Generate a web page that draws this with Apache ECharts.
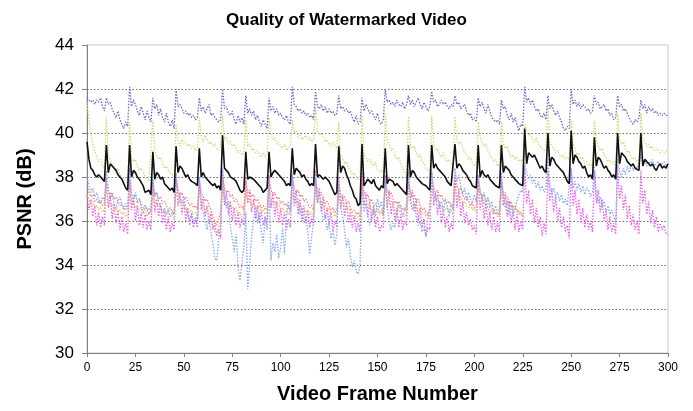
<!DOCTYPE html>
<html>
<head>
<meta charset="utf-8">
<script src="https://cdn.jsdelivr.net/npm/echarts@6/dist/echarts.min.js"></script>
<style>html,body{margin:0;padding:0;background:#fff}#c{width:693px;height:411px}</style>
</head>
<body>
<div id="c"></div>
<script>
// Frame index = position in each array (frame 0 .. 300)
const yTicks = [30, 32, 34, 36, 38, 40, 42, 44];
const xTicks = [0, 25, 50, 75, 100, 125, 150, 175, 200, 225, 250, 275, 300];

const purple = [
41.6,41.5,41.4,41.5,41.3,41.5,41.4,41.6,41.2,41.0,
41.6,41.3,41.4,41.1,40.9,40.7,41.0,40.6,40.4,40.2,40.5,40.3,
42.1,41.2,41.5,41.3,41.0,40.8,41.2,40.9,40.6,41.0,40.7,40.5,
41.6,41.1,41.3,40.8,41.1,40.7,40.5,40.9,40.5,40.3,40.6,40.2,
42.0,41.2,41.3,41.1,40.9,41.0,40.8,40.9,40.7,40.8,40.6,40.7,
41.6,41.0,41.2,40.9,41.1,41.3,40.8,40.9,40.7,40.6,40.5,40.6,
42.0,41.1,41.2,40.9,40.8,41.0,40.6,40.4,40.8,40.5,40.7,40.4,
41.7,40.9,41.1,40.8,41.0,40.6,40.8,40.5,40.3,40.6,40.4,40.2,
41.6,41.0,41.2,40.9,41.1,40.8,40.9,40.7,40.6,40.8,40.5,40.4,
42.1,41.3,41.2,41.0,41.1,40.9,41.0,40.8,40.9,40.7,40.8,40.6,
41.9,41.2,41.1,41.3,41.0,41.2,40.9,41.1,40.9,41.0,40.8,40.9,
41.7,41.1,41.2,41.0,41.1,40.9,41.0,40.7,40.5,40.8,40.4,40.5,
41.6,41.0,41.3,41.1,40.9,41.0,40.8,40.6,40.9,40.5,40.4,40.6,
42.0,41.4,41.5,41.3,41.4,41.2,41.5,41.3,41.2,41.4,41.1,41.3,
41.7,41.3,41.5,41.2,41.4,41.6,41.3,41.1,41.4,41.2,41.0,41.2,
41.9,41.4,41.5,41.2,41.3,41.5,41.3,41.4,41.2,41.1,41.3,41.2,
41.7,41.3,41.4,41.1,41.2,41.3,41.0,40.8,40.9,40.6,40.7,40.5,
41.6,41.2,41.4,41.1,40.9,41.3,41.0,40.7,40.6,40.5,40.6,40.4,
41.5,41.1,41.2,40.8,40.6,40.9,40.5,40.7,40.4,40.1,40.4,40.3,
42.1,41.4,41.6,41.3,41.5,41.2,41.0,41.1,40.8,40.7,40.9,40.6,
41.7,41.1,41.3,41.0,40.8,41.0,40.7,40.5,40.2,40.1,40.3,40.2,
42.0,41.3,41.5,41.2,41.4,41.1,41.3,41.2,41.0,41.1,40.9,41.0,
41.7,41.3,41.4,41.1,41.2,41.3,41.0,41.1,40.8,40.9,40.6,40.7,
41.7,41.2,41.3,41.0,41.1,40.9,40.7,40.5,40.4,40.6,40.5,40.7,
41.5,41.1,41.3,40.9,41.2,41.0,41.1,40.9,41.0,40.8,40.9,40.8,40.9,40.8,40.8
];

const green = [
41.4,40.6,40.0,39.5,39.2,38.9,38.7,38.8,38.5,38.4,
40.7,39.0,38.8,38.6,38.5,38.3,38.4,38.1,38.0,37.9,37.8,37.7,
40.5,38.9,38.7,38.8,38.5,38.3,38.4,38.2,38.0,37.9,37.8,37.8,
40.6,39.2,39.0,38.8,38.9,38.6,38.4,38.5,38.3,38.2,38.1,38.0,
40.4,39.6,39.4,39.7,39.5,39.6,39.4,39.5,39.3,39.4,39.2,39.3,
40.7,39.8,39.6,39.9,39.7,39.5,39.6,39.4,39.5,39.3,39.2,39.4,
40.8,39.7,39.8,39.5,39.6,39.4,39.5,39.3,39.1,39.2,39.0,39.1,
40.6,39.4,39.5,39.2,39.3,39.1,39.2,39.0,38.9,39.1,38.9,39.0,
40.7,39.9,39.7,39.8,39.5,39.6,39.4,39.3,39.5,39.2,39.3,39.4,
40.6,40.0,40.1,39.8,39.9,39.7,39.8,39.9,39.7,39.8,39.6,39.7,
41.2,40.1,39.9,40.0,39.8,39.6,39.7,39.5,39.4,39.6,39.4,39.3,
40.5,39.0,38.9,38.6,38.7,38.4,38.3,38.1,38.2,38.0,37.9,38.0,
40.8,39.0,38.9,38.7,38.8,38.6,38.5,38.7,38.3,38.2,38.3,38.2,
40.9,39.7,39.5,39.2,39.3,39.0,38.8,38.9,38.6,38.4,38.2,38.1,
40.75,39.5,39.3,39.4,39.1,38.9,39.0,38.7,38.6,38.4,38.3,38.2,
40.75,39.4,39.2,39.3,39.0,38.9,39.1,38.8,38.7,38.8,38.6,38.5,
40.75,39.7,39.5,39.6,39.3,39.1,39.0,38.8,38.9,38.6,38.5,38.6,
40.5,39.8,39.6,39.4,39.5,39.2,39.0,38.9,38.7,38.8,38.5,38.6,
40.5,39.5,39.3,39.4,39.1,38.9,39.0,38.8,38.9,38.7,38.8,38.7,
40.4,40.1,39.9,40.0,39.7,39.6,39.8,39.5,39.4,39.3,39.2,39.3,
41.3,39.6,39.4,39.3,39.1,39.2,39.0,38.9,39.0,38.8,38.9,38.8,
40.6,39.5,39.3,39.0,39.1,38.8,38.9,38.6,38.7,38.5,38.6,38.5,
40.6,39.6,39.4,39.2,39.3,39.0,38.9,38.7,38.8,38.6,38.7,38.5,
40.9,39.7,39.5,39.6,39.3,39.1,39.2,38.9,38.8,38.9,38.7,38.8,
40.9,39.8,39.6,39.4,39.5,39.3,39.4,39.2,39.3,39.2,39.1,39.2,39.1,39.2,39.2
];

const black = [
39.6,38.8,38.4,38.3,38.1,38.0,38.1,38.0,37.9,37.8,
39.45,38.2,38.6,38.5,38.4,38.3,38.1,38.0,37.9,37.7,37.5,37.4,
39.45,38.0,38.3,38.2,38.0,37.9,37.9,37.6,37.3,37.3,37.4,37.2,
39.15,37.9,38.2,38.1,37.9,38.0,37.7,37.6,37.6,37.4,37.5,37.3,
39.4,38.2,38.5,38.4,38.2,38.0,38.1,37.9,37.8,37.8,37.7,37.6,
39.3,38.0,38.2,38.0,37.9,37.9,37.7,37.6,37.7,37.5,37.6,37.4,
39.9,38.4,38.3,38.2,38.0,38.0,37.9,37.8,37.6,37.4,37.3,37.4,
39.15,37.9,38.0,38.0,37.9,37.8,37.8,37.6,37.5,37.3,37.3,37.5,
39.15,38.0,38.2,38.3,38.2,38.1,38.0,37.9,37.8,37.6,37.7,37.6,
39.3,38.1,38.4,38.4,38.2,38.0,38.1,37.9,37.8,37.6,37.7,37.6,
39.5,38.0,38.1,38.0,37.9,38.0,37.9,37.8,37.6,37.4,37.2,37.3,
39.4,38.2,38.5,38.4,38.1,37.9,37.6,37.4,37.1,37.0,36.7,36.8,
39.5,37.6,37.6,37.9,37.8,37.7,37.9,37.6,37.5,37.4,37.6,37.5,
39.3,37.7,37.9,37.9,37.8,37.6,37.7,37.6,37.5,37.4,37.3,37.2,
39.45,38.0,38.3,38.2,38.0,37.9,37.8,37.7,37.7,37.6,37.5,37.4,
39.45,38.4,38.6,38.4,38.3,38.3,38.1,38.0,37.8,37.7,37.6,37.6,
39.5,38.4,38.6,38.5,38.3,38.2,38.1,37.9,37.8,37.6,37.6,37.5,
39.45,38.0,38.3,38.1,38.0,38.1,37.9,37.8,37.7,37.6,37.6,37.5,
39.45,38.2,38.5,38.4,38.3,38.1,38.0,37.9,37.8,37.7,37.7,37.6,
40.2,38.6,39.1,39.0,38.9,39.0,38.8,38.6,38.4,38.5,38.3,38.2,
40.0,38.5,38.9,38.8,38.6,38.5,38.4,38.4,38.2,38.0,37.8,37.7,
40.1,38.6,39.0,38.9,38.7,38.6,38.4,38.5,38.2,38.0,38.1,37.9,
39.8,38.5,38.9,38.8,38.6,38.4,38.5,38.3,38.2,38.0,38.1,37.9,
40.0,38.6,39.1,39.0,38.9,38.7,38.6,38.5,38.6,38.4,38.4,38.3,
40.0,38.5,38.8,38.7,38.6,38.5,38.6,38.4,38.3,38.5,38.6,38.4,38.5,38.4,38.6
];

const lightBlue = [
38.0,37.6,37.3,37.5,37.1,37.3,37.0,36.8,37.1,36.9,
38.3,37.4,37.0,37.2,36.8,36.6,36.9,37.1,36.7,36.5,36.8,36.6,
38.4,37.2,36.9,37.3,36.8,37.0,36.6,36.4,36.7,36.5,36.3,36.6,
38.0,37.1,37.3,36.9,36.7,36.4,36.6,36.3,36.5,36.2,36.4,36.3,
38.2,37.3,37.0,36.8,37.1,36.6,36.3,36.0,36.4,35.9,36.2,36.0,
38.0,36.8,36.4,36.0,35.6,36.1,35.5,35.0,34.3,34.2,35.2,35.8,
38.4,37.2,36.6,36.9,35.8,35.2,34.6,35.4,33.9,33.3,34.1,34.8,
36.4,32.9,34.0,35.3,36.0,36.7,35.9,36.4,35.5,35.0,36.2,35.6,
37.8,34.2,35.0,34.6,35.4,34.3,34.8,35.7,34.5,36.2,36.9,36.4,
38.1,37.2,36.8,37.0,36.3,36.6,35.9,36.2,35.5,34.5,35.3,36.0,
38.0,36.9,37.2,36.6,36.0,36.3,35.6,35.9,35.2,35.6,34.9,35.4,
37.8,36.6,36.2,35.6,34.8,35.2,34.4,33.9,34.2,33.7,33.6,34.0,
37.5,36.4,36.8,36.2,35.8,36.3,36.7,36.2,37.0,36.6,36.9,36.3,
37.9,36.6,36.0,35.6,35.9,35.7,36.4,36.9,36.6,36.2,36.5,36.8,
38.2,36.9,36.5,36.8,36.2,35.8,36.0,35.5,35.7,35.3,36.1,36.6,
38.3,37.3,36.9,37.2,36.6,36.9,36.4,37.0,36.7,36.2,36.8,36.5,
38.4,37.8,38.1,37.6,37.2,37.5,36.9,37.3,37.0,36.8,37.2,36.9,
38.1,37.4,37.0,37.3,36.7,37.1,36.6,36.9,36.4,36.7,36.3,36.6,
38.0,37.1,36.6,36.9,36.3,36.8,36.2,36.6,36.9,37.2,37.4,37.3,
38.6,38.2,37.9,38.1,37.7,37.9,37.5,37.8,37.4,37.6,37.3,37.5,
38.8,37.6,37.3,37.5,37.1,37.3,36.9,37.2,36.8,37.0,36.7,36.7,
38.4,37.5,37.8,37.4,37.7,37.3,37.6,37.2,37.5,37.4,37.1,37.3,
38.5,37.2,36.8,37.1,36.6,36.9,36.4,36.7,36.3,36.5,36.2,35.9,
38.8,38.3,38.0,38.4,38.1,38.5,38.2,38.6,38.3,38.5,38.4,38.6,
39.0,38.6,38.8,38.5,38.7,38.6,38.8,38.5,38.6,38.7,38.5,38.6,38.7,38.5,38.6
];

const orange = [
37.2,37.0,36.8,36.9,36.6,36.7,36.5,36.6,36.4,36.5,
37.4,36.9,36.7,36.8,36.5,36.6,36.4,36.5,36.3,36.4,36.2,36.3,
37.3,36.8,36.9,36.6,36.7,36.5,36.6,36.3,36.5,36.2,36.4,36.3,
37.2,36.9,36.7,36.8,36.6,36.4,36.5,36.3,36.4,36.2,36.3,36.1,
37.4,37.0,36.8,36.9,36.7,36.5,36.6,36.4,36.5,36.3,36.4,36.2,
37.3,36.9,36.7,36.5,36.6,36.3,36.1,35.8,35.5,35.4,35.7,36.0,
37.5,37.0,36.8,36.9,36.6,36.7,36.5,36.6,36.3,36.4,36.2,36.3,
37.3,36.9,37.0,36.7,36.8,36.6,36.5,36.7,36.4,36.5,36.3,36.4,
37.4,37.0,36.8,36.9,36.7,36.8,36.5,36.6,36.4,36.5,36.3,36.4,
37.3,36.9,37.0,36.7,36.8,36.5,36.6,36.4,36.5,36.3,36.4,36.2,
37.4,37.0,36.8,36.9,36.6,36.7,36.5,36.6,36.3,36.4,36.2,36.3,
37.2,36.9,36.7,36.8,36.5,36.6,36.4,36.2,36.3,36.1,36.2,36.0,
37.3,36.8,36.9,36.6,36.7,36.5,36.6,36.4,36.5,36.3,36.4,36.2,
37.4,37.0,36.8,36.9,36.7,36.5,36.6,36.4,36.5,36.3,36.2,36.4,
37.3,36.9,36.7,36.8,36.6,36.4,36.5,36.3,36.4,36.2,36.3,36.1,
37.4,37.1,36.9,37.0,36.8,36.6,36.7,36.5,36.6,36.4,36.5,36.3,
37.5,37.2,37.0,37.1,36.8,36.9,36.7,36.6,36.8,36.5,36.6,36.4,
37.4,37.3,37.1,37.2,36.9,37.0,36.8,36.6,36.5,36.3,36.4,36.2,
37.3,37.0,36.8,36.9,36.6,36.7,36.5,36.6,36.4,36.5,36.3,36.4
];

const red = [
37.6,37.3,37.1,37.2,36.9,37.0,36.8,36.9,36.7,36.8,
37.9,37.4,37.2,37.3,37.0,37.1,36.9,36.7,36.8,36.6,36.5,36.6,
37.8,37.3,37.1,37.2,36.9,37.0,36.8,36.6,36.7,36.5,36.6,36.4,
37.7,37.2,37.3,37.0,37.1,36.8,36.9,36.7,36.5,36.6,36.4,36.5,
37.9,37.4,37.2,37.3,37.0,37.1,36.9,36.7,36.8,36.6,36.7,36.5,
37.8,37.3,37.1,36.9,37.0,36.7,36.5,36.2,36.0,35.8,36.1,36.4,
38.0,37.5,37.3,37.4,37.1,37.2,36.9,37.0,36.8,36.6,36.7,36.5,
37.8,37.3,37.4,37.1,37.2,36.9,37.0,36.8,36.6,36.7,36.5,36.6,
37.9,37.4,37.2,37.3,37.0,37.1,36.8,36.9,36.7,36.8,36.6,36.5,
38.0,37.5,37.3,37.4,37.1,37.2,36.9,37.0,36.8,36.6,36.7,36.5,
37.9,37.4,37.2,37.3,37.0,36.8,36.9,36.7,36.5,36.6,36.4,36.5,
37.7,37.2,37.0,37.1,36.8,36.9,36.6,36.4,36.5,36.3,36.4,36.2,
37.8,37.3,37.1,37.2,36.9,37.0,36.7,36.8,36.6,36.4,36.5,36.3,
37.9,37.4,37.2,37.3,37.0,36.8,36.9,36.6,36.7,36.5,36.6,36.4,
37.8,37.3,37.1,37.2,36.9,37.0,36.7,36.5,36.6,36.4,36.3,36.5,
38.0,37.5,37.3,37.4,37.1,37.2,36.9,37.0,36.8,36.9,36.7,36.6,
38.1,37.6,37.4,37.5,37.2,37.0,37.1,36.9,36.7,36.8,36.6,36.7,
37.9,37.3,37.1,36.8,36.9,36.6,36.4,36.5,36.3,36.4,36.2,36.3,
37.8,37.2,37.0,37.1,36.8,36.9,36.6,36.7,36.5,36.3,36.4,36.2
];

const magenta = [
37.2,36.5,37.0,36.2,36.7,35.8,36.4,35.7,36.2,35.8,
38.0,36.6,37.2,36.1,36.8,35.9,36.5,35.6,36.2,35.5,35.9,35.4,
37.9,36.5,37.1,36.0,36.7,35.8,36.4,35.7,36.3,35.6,36.0,35.6,
37.8,36.4,37.0,36.2,36.8,35.9,36.5,35.6,36.2,35.5,35.9,35.6,
38.1,36.7,37.3,36.3,36.9,36.0,36.6,35.8,36.3,35.7,36.1,35.7,
38.0,36.5,37.1,36.2,36.7,35.9,36.4,35.6,35.9,35.3,35.6,35.2,
38.3,36.7,37.3,36.3,36.9,36.0,36.6,35.8,36.4,35.7,36.1,35.8,
38.0,36.8,37.4,36.4,37.0,36.1,36.7,35.9,36.5,35.8,36.2,35.9,
38.1,36.6,37.3,36.2,36.9,35.9,36.6,35.8,36.4,35.6,36.1,35.7,
38.2,36.7,37.4,36.3,37.0,36.0,36.7,35.9,36.5,35.7,36.2,35.8,
38.3,36.8,37.5,36.4,37.1,36.1,36.6,35.8,36.4,35.6,36.0,35.7,
38.0,36.6,37.2,36.2,36.8,35.9,36.5,35.7,36.2,35.5,35.9,35.5,
38.2,36.7,37.3,36.2,36.9,36.0,36.5,35.7,36.2,35.5,35.8,35.7,
38.1,36.6,37.4,36.3,36.9,36.0,36.6,35.7,36.3,35.6,36.0,35.8,
38.3,36.9,37.4,36.4,37.0,36.0,36.6,35.7,36.1,35.3,35.7,35.6,
38.2,36.7,37.3,36.3,36.9,35.9,36.5,35.7,36.2,35.5,35.9,35.6,
38.1,36.6,37.4,36.2,36.9,35.9,36.4,35.8,36.1,35.6,35.8,35.4,
38.0,36.5,37.2,36.1,36.8,35.8,36.4,35.6,36.2,35.5,35.9,35.5,
38.2,36.7,37.3,36.2,36.9,35.9,36.5,35.6,36.3,35.5,36.0,35.6,
38.4,36.8,37.4,36.3,37.0,35.9,36.6,35.7,36.2,35.3,35.9,35.4,
38.3,36.9,37.5,36.4,37.1,36.0,36.6,35.7,36.2,35.5,35.8,35.2,
38.4,36.7,37.4,36.3,37.0,35.9,36.6,35.7,36.3,35.6,36.0,35.5,
38.3,36.8,37.4,36.4,37.0,36.0,36.5,35.6,36.2,35.5,35.9,35.4,
38.5,37.0,37.6,36.5,37.2,36.1,36.7,35.8,36.3,35.6,36.0,35.4,
38.3,36.8,37.4,36.3,36.9,35.9,36.5,35.7,36.2,35.5,35.9,35.6,35.8,35.4,35.4
];

function pts(arr) { return arr.map((v, i) => [i, v]); }
function dotted(name, arr, color) {
  return {
    name: name, type: 'line', data: pts(arr), showSymbol: false, symbol: 'none',
    lineStyle: { color: color, width: 1.3, type: [1.5, 1.5] }, silent: true
  };
}

const chart = echarts.init(document.getElementById('c'), null, { renderer: 'canvas' });
chart.setOption({
  animation: false,
  backgroundColor: '#fff',
  title: {
    text: 'Quality of Watermarked Video', left: 'center', top: 7,
    textStyle: { fontFamily: 'Liberation Sans', fontWeight: 'bold', fontSize: 17, color: '#000' }
  },
  grid: { left: 87, right: 25, top: 45, bottom: 58, show: true, borderColor: '#c8c8c8', borderWidth: 1, backgroundColor: 'transparent' },
  xAxis: {
    type: 'value', min: 0, max: 300, interval: 25,
    name: 'Video Frame Number', nameLocation: 'middle', nameGap: 31,
    nameTextStyle: { fontFamily: 'Liberation Sans', fontWeight: 'bold', fontSize: 20, color: '#000' },
    axisLine: { show: true, lineStyle: { color: '#808080', width: 1 } },
    axisTick: { show: true, length: 4, inside: false, lineStyle: { color: '#808080' } },
    axisLabel: { fontFamily: 'Liberation Sans', fontSize: 12, color: '#000', margin: 9,
      formatter: v => xTicks.includes(v) ? String(v) : '' },
    splitLine: { show: false }
  },
  yAxis: {
    type: 'value', min: 30, max: 44, interval: 2,
    name: 'PSNR (dB)', nameLocation: 'middle', nameGap: 52,
    nameTextStyle: { fontFamily: 'Liberation Sans', fontWeight: 'bold', fontSize: 20, color: '#000' },
    axisLine: { show: true, lineStyle: { color: '#808080', width: 1 } },
    axisTick: { show: true, length: 5, lineStyle: { color: '#808080' } },
    axisLabel: { fontFamily: 'Liberation Sans', fontSize: 17, color: '#000', margin: 13,
      formatter: v => yTicks.includes(v) ? String(v) : '' },
    splitLine: { show: true, lineStyle: {
      color: ['rgba(0,0,0,0)', '#6e6e6e', '#6e6e6e', '#6e6e6e', '#6e6e6e', '#6e6e6e', '#6e6e6e', 'rgba(0,0,0,0)'],
      type: [1.5, 2], width: 1 } }
  },
  series: [
    dotted('magenta', magenta, '#e860e8'),
    dotted('red', red, '#f08080'),
    dotted('orange', orange, '#f4b868'),
    dotted('lightBlue', lightBlue, '#82aaf0'),
    dotted('green', green, '#cadc78'),
    dotted('purple', purple, '#6a6ac8'),
    { name: 'black', type: 'line', data: pts(black), showSymbol: false, symbol: 'none',
      lineStyle: { color: '#111', width: 1.6 }, silent: true }
  ]
});
</script>
</body>
</html>
